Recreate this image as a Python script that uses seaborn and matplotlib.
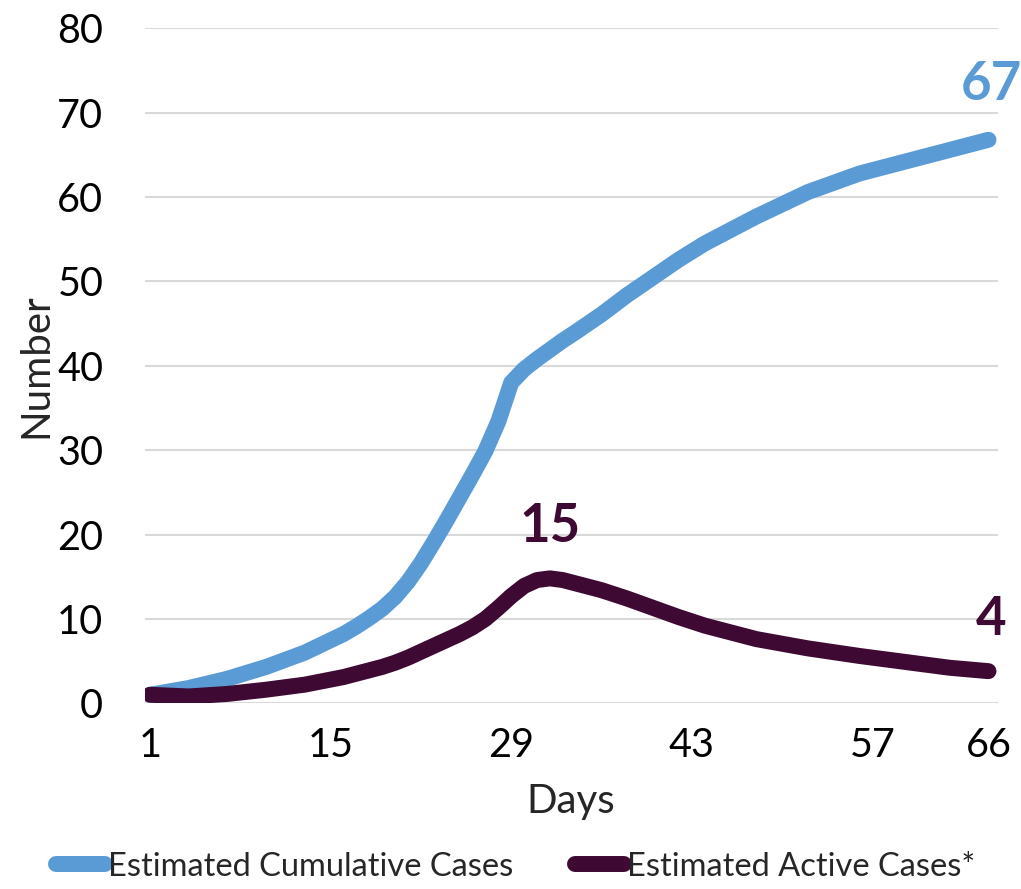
import matplotlib.pyplot as plt
import pandas as pd
import seaborn as sns

days = [1, 4, 7, 10, 13, 16, 17, 18, 19, 20, 21, 22, 23, 24, 25, 26, 27, 28, 29, 30, 31, 32,
        33, 34, 36, 38, 40, 42, 44, 48, 52, 56, 60, 63, 66]
cumulative = [1.0, 1.8, 2.9, 4.3, 6.0, 8.2, 9.1, 10.1, 11.2, 12.6, 14.4, 16.6, 19.1, 21.7,
              24.4, 27.1, 29.9, 33.4, 38.0, 39.6, 40.8, 41.9, 43.0, 44.0, 46.1, 48.4, 50.5,
              52.6, 54.5, 57.7, 60.6, 62.8, 64.4, 65.6, 66.8]
active = [1.0, 0.8, 1.1, 1.6, 2.2, 3.1, 3.5, 3.9, 4.3, 4.8, 5.4, 6.1, 6.8, 7.5, 8.2, 9.0,
          10.0, 11.3, 12.7, 13.9, 14.6, 14.8, 14.6, 14.2, 13.4, 12.4, 11.3, 10.2, 9.2, 7.6,
          6.5, 5.6, 4.8, 4.2, 3.8]
series_names = ["Estimated Cumulative Cases", "Estimated Active Cases*"]
x_ticks = [1, 15, 29, 43, 57, 66]
y_ticks = [0, 10, 20, 30, 40, 50, 60, 70, 80]

blue = "#5B9BD5"
purple = "#3E0A33"

sns.set_theme(style="white")
plt.rcParams["font.family"] = ["Lato", "DejaVu Sans"]

df = pd.DataFrame({"Days": days, series_names[0]: cumulative, series_names[1]: active})
long_df = pd.melt(df, ["Days"], var_name="series", value_name="Number")

fig = plt.figure(figsize=(10.21, 8.89), dpi=100)
ax = fig.add_axes([0.142, 0.209, 0.835, 0.759])

sns.lineplot(data=long_df, x="Days", y="Number", hue="series",
             palette=[blue, purple], linewidth=11.5, ax=ax, legend=False)
for line in ax.lines:
    line.set_solid_capstyle("round")
    line.set_solid_joinstyle("round")

ax.set_xlim(0.61, 66.7)
ax.set_ylim(0, 80)
ax.set_xticks(x_ticks)
ax.set_yticks(y_ticks)
ax.tick_params(axis="both", length=0, labelsize=28.5, colors="black")
ax.tick_params(axis="y", pad=30)
ax.tick_params(axis="x", pad=17)
ax.yaxis.grid(True, color="#D9D9D9", linewidth=1.5)
ax.set_axisbelow(True)
for s in ax.spines.values():
    s.set_visible(False)
ax.set_xlabel("Days", fontsize=29, labelpad=14)
ax.set_ylabel("Number", fontsize=29, labelpad=2)

# value labels
ax.annotate(f"{round(cumulative[-1])}", xy=(days[-1], cumulative[-1]), xytext=(2, 40),
            textcoords="offset points", ha="center", va="center",
            fontsize=38, fontweight="bold", color=blue)
peak = active.index(max(active))
ax.annotate(f"{round(active[peak])}", xy=(days[peak], active[peak]), xytext=(0, 37),
            textcoords="offset points", ha="center", va="center",
            fontsize=38, fontweight="bold", color=purple)
ax.annotate(f"{round(active[-1])}", xy=(days[-1], active[-1]), xytext=(2, 37),
            textcoords="offset points", ha="center", va="center",
            fontsize=38, fontweight="bold", color=purple)

handles = [plt.Line2D([], [], color=c, linewidth=11.5, solid_capstyle="round") for c in [blue, purple]]
fig.legend(handles, series_names, loc="center", bbox_to_anchor=(0.505, 0.025), ncol=2,
           frameon=False, handlelength=1.5, handletextpad=0.1, columnspacing=1.9,
           prop={"family": ["Lato"], "size": 23.5})

fig.savefig("out.png", dpi=100)
